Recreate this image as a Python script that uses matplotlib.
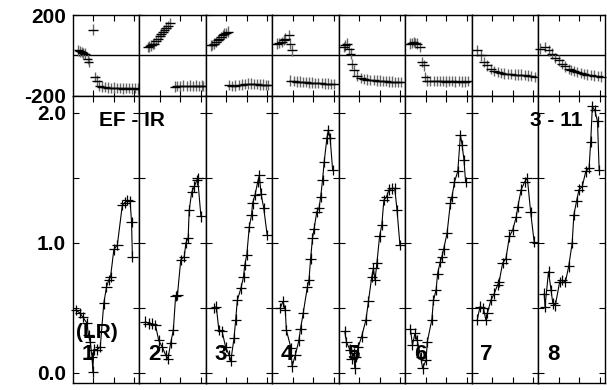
"""
Amplitude / phase multi-panel plot (PGPLOT-like style), 8 columns.
"""
import matplotlib
matplotlib.use("Agg")
import matplotlib.pyplot as plt
from matplotlib.ticker import FixedLocator, NullFormatter

plt.rcParams['font.family'] = ['Liberation Sans', 'DejaVu Sans']
plt.rcParams['font.weight'] = 'bold'
plt.rcParams['axes.unicode_minus'] = False

# ── Data: amplitude (lower row) ──────────────────────────────────────────────
amp_x = [
    [0.15, 0.36, 0.49, 0.69, 0.77, 0.85, 0.94, 0.98, 1.02, 1.18, 1.34, 1.51, 1.64, 1.75, 1.84, 2.0, 2.17, 2.41, 2.53, 2.66, 2.79, 2.86, 2.9],
    [0.30, 0.46, 0.63, 0.79, 0.95, 1.12, 1.28, 1.40, 1.53, 1.66, 1.77, 1.86, 2.02, 2.19, 2.27, 2.38, 2.43, 2.55, 2.68, 2.81, 2.84, 3.0],
    [0.39, 0.52, 0.64, 0.80, 0.97, 1.13, 1.22, 1.38, 1.46, 1.54, 1.71, 1.84, 1.90, 2.0, 2.12, 2.23, 2.28, 2.40, 2.53, 2.61, 2.69, 2.82, 2.99],
    [0.39, 0.53, 0.64, 0.69, 0.92, 0.97, 1.13, 1.30, 1.38, 1.51, 1.71, 1.79, 1.87, 1.96, 2.04, 2.17, 2.28, 2.36, 2.45, 2.53, 2.66, 2.73, 2.82, 2.94],
    [0.30, 0.38, 0.54, 0.63, 0.74, 0.79, 0.84, 0.95, 1.12, 1.33, 1.45, 1.61, 1.69, 1.77, 1.86, 1.99, 2.10, 2.20, 2.33, 2.45, 2.61, 2.73, 2.84, 2.98],
    [0.26, 0.36, 0.48, 0.59, 0.76, 0.85, 1.02, 1.08, 1.30, 1.38, 1.51, 1.58, 1.71, 1.79, 1.87, 2.04, 2.20, 2.28, 2.40, 2.56, 2.69, 2.77, 2.86, 2.94],
    [0.28, 0.41, 0.58, 0.69, 0.77, 0.94, 1.10, 1.27, 1.34, 1.51, 1.67, 1.84, 2.0, 2.17, 2.25, 2.41, 2.58, 2.71, 2.87, 3.04],
    [0.30, 0.34, 0.51, 0.63, 0.72, 0.84, 1.05, 1.17, 1.33, 1.49, 1.66, 1.74, 1.87, 1.99, 2.15, 2.32, 2.48, 2.56, 2.64, 2.76, 2.89, 2.97],
]
amp_y = [
    [0.485, 0.46, 0.43, 0.385, 0.29, 0.24, 0.125, 0.01, 0.18, 0.18, 0.2, 0.535, 0.66, 0.715, 0.74, 0.95, 0.985, 1.29, 1.31, 1.33, 1.32, 1.16, 0.895],
    [0.395, 0.38, 0.38, 0.37, 0.25, 0.2, 0.14, 0.11, 0.23, 0.33, 0.59, 0.6, 0.87, 0.895, 1.0, 1.04, 1.25, 1.39, 1.435, 1.485, 1.5, 1.205],
    [0.5, 0.51, 0.33, 0.32, 0.2, 0.14, 0.09, 0.27, 0.41, 0.56, 0.65, 0.74, 0.83, 0.91, 1.125, 1.215, 1.305, 1.37, 1.47, 1.52, 1.38, 1.27, 1.06],
    [0.5, 0.55, 0.485, 0.33, 0.19, 0.05, 0.14, 0.25, 0.34, 0.46, 0.66, 0.715, 0.88, 1.035, 1.11, 1.24, 1.27, 1.355, 1.485, 1.625, 1.805, 1.87, 1.805, 1.56],
    [0.32, 0.24, 0.18, 0.11, 0.15, 0.035, 0.125, 0.2, 0.28, 0.41, 0.55, 0.74, 0.805, 0.715, 0.845, 1.05, 1.14, 1.33, 1.355, 1.41, 1.42, 1.42, 1.25, 0.985],
    [0.34, 0.215, 0.305, 0.25, 0.125, 0.035, 0.1, 0.24, 0.41, 0.56, 0.64, 0.765, 0.855, 0.895, 0.95, 1.075, 1.305, 1.355, 1.47, 1.55, 1.83, 1.755, 1.64, 1.47],
    [0.41, 0.51, 0.5, 0.41, 0.46, 0.56, 0.61, 0.68, 0.70, 0.845, 0.88, 1.05, 1.1, 1.2, 1.28, 1.41, 1.47, 1.5, 1.24, 1.01],
    [0.61, 0.51, 0.78, 0.64, 0.535, 0.52, 0.70, 0.715, 0.70, 0.82, 1.0, 1.215, 1.32, 1.41, 1.435, 1.55, 1.575, 1.78, 2.05, 2.02, 1.935, 1.56],
]

# ── Data: phase (upper row), degrees ─────────────────────────────────────────
ph_x = [
    [0.28, 0.36, 0.44, 0.52, 0.60, 0.72, 0.77, 0.98, 1.10, 1.18, 1.30, 1.40, 1.55, 1.70, 1.85, 2.0, 2.15, 2.30, 2.45, 2.60, 2.75, 2.90, 3.05, 3.15],
    [0.41, 0.50, 0.58, 0.66, 0.74, 0.82, 0.90, 1.0, 1.07, 1.15, 1.23, 1.32, 1.40, 1.48, 1.72, 1.85, 2.0, 2.15, 2.30, 2.45, 2.60, 2.75, 2.90, 3.05, 3.12],
    [0.25, 0.33, 0.41, 0.50, 0.58, 0.66, 0.74, 0.82, 0.90, 0.98, 1.07, 1.15, 1.30, 1.45, 1.60, 1.75, 1.90, 2.05, 2.20, 2.35, 2.50, 2.65, 2.80, 2.95, 3.05],
    [0.23, 0.35, 0.48, 0.56, 0.64, 0.80, 0.89, 0.97, 0.89, 1.05, 1.20, 1.35, 1.50, 1.65, 1.80, 1.95, 2.10, 2.25, 2.40, 2.55, 2.70, 2.85, 3.0],
    [0.25, 0.33, 0.41, 0.49, 0.58, 0.66, 0.74, 0.90, 1.07, 1.23, 1.40, 1.55, 1.70, 1.85, 2.0, 2.15, 2.30, 2.45, 2.60, 2.75, 2.90, 3.04],
    [0.25, 0.33, 0.41, 0.50, 0.58, 0.74, 0.82, 0.90, 0.99, 1.07, 1.23, 1.40, 1.55, 1.70, 1.85, 2.0, 2.15, 2.30, 2.45, 2.60, 2.75, 2.90, 3.04],
    [0.28, 0.44, 0.60, 0.77, 0.94, 1.10, 1.27, 1.43, 1.60, 1.76, 1.92, 2.09, 2.25, 2.42, 2.58, 2.74, 2.90, 3.07],
    [0.10, 0.34, 0.51, 0.67, 0.84, 1.0, 1.17, 1.33, 1.49, 1.62, 1.74, 1.90, 2.07, 2.24, 2.40, 2.57, 2.73, 2.90, 3.07],
]
ph_y = [
    [25, 20, 17, 10, 8, -17, -33, 128, -108, -125, -150, -155, -158, -160, -162, -160, -163, -162, -165, -162, -163, -165, -163, -165],
    [42, 45, 50, 55, 58, 70, 83, 95, 108, 115, 125, 138, 145, 158, -155, -152, -153, -150, -152, -150, -152, -150, -153, -150, -152],
    [50, 52, 58, 65, 75, 82, 92, 100, 108, 112, 117, -148, -152, -150, -147, -145, -142, -140, -140, -142, -143, -145, -145, -147, -147],
    [58, 62, 67, 75, 83, 100, 58, 25, -125, -128, -130, -130, -132, -133, -135, -135, -137, -137, -138, -140, -140, -142, -142],
    [42, 50, 58, 33, 8, -42, -75, -100, -112, -117, -120, -122, -123, -125, -125, -127, -128, -130, -130, -132, -133, -133],
    [58, 62, 67, 60, 58, 42, -33, -50, -108, -125, -128, -128, -127, -128, -128, -130, -128, -128, -130, -128, -130, -130, -128],
    [25, 0, -33, -50, -67, -78, -83, -88, -90, -92, -93, -95, -95, -95, -98, -100, -103, -108],
    [33, 42, 25, 8, -12, -25, -42, -55, -67, -72, -78, -83, -88, -92, -95, -97, -100, -102, -105],
]

panel_labels = ['1', '2', '3', '4', '5', '6', '7', '8']

W, H = 607, 390
fig = plt.figure(figsize=(W / 100, H / 100), dpi=100)

x0_px, x1_px = 72.7, 604.5
pw = (x1_px - x0_px) / 8
top_px, mid_px, bot_px = 15.0, 95.7, 383.0
XMAX = 3.23


def style_axes(ax):
    for s in ax.spines.values():
        s.set_linewidth(1.0)
    ax.tick_params(which='both', direction='in', top=True, right=True,
                   length=4, width=0.8, labelsize=15, pad=5)
    ax.set_xlim(0, XMAX)
    ax.xaxis.set_major_locator(FixedLocator([1, 2, 3]))
    ax.xaxis.set_major_formatter(NullFormatter())


for i in range(8):
    left = (x0_px + i * pw) / W
    # ── phase panel ──
    axp = fig.add_axes([left, 1 - mid_px / H, pw / W, (mid_px - top_px) / H])
    style_axes(axp)
    axp.set_ylim(-200, 200)
    axp.axhline(0, color='black', lw=1.0)
    axp.yaxis.set_major_locator(FixedLocator([-200, 200]))
    axp.errorbar(ph_x[i], ph_y[i], yerr=26, fmt='none', ecolor='#666666',
                 elinewidth=1.0, clip_on=False)
    axp.errorbar(ph_x[i], ph_y[i], xerr=0.24, fmt='none', ecolor='black',
                 elinewidth=1.0, clip_on=False)
    if i > 0:
        axp.yaxis.set_major_formatter(NullFormatter())

    # ── amplitude panel ──
    axa = fig.add_axes([left, 1 - bot_px / H, pw / W, (bot_px - mid_px) / H])
    style_axes(axa)
    axa.set_ylim(-0.077, 2.133)
    axa.yaxis.set_major_locator(FixedLocator([0, 1, 2]))
    axa.yaxis.set_minor_locator(FixedLocator([0.5, 1.5]))
    axa.yaxis.set_major_formatter(plt.FuncFormatter(lambda v, p: f"{v:.1f}"))
    axa.plot(amp_x[i], amp_y[i], color='black', lw=0.8)
    axa.errorbar(amp_x[i], amp_y[i], xerr=0.25, yerr=0.04, fmt='none',
                 ecolor='black', elinewidth=0.9, clip_on=False)
    if i > 0:
        axa.yaxis.set_major_formatter(NullFormatter())
    else:
        for lab in axa.get_yticklabels() + axp.get_yticklabels():
            lab.set_fontweight('bold')

    fig.text((x0_px + i * pw + 15) / W, 1 - 355 / H, panel_labels[i],
             fontsize=16, fontweight='bold', ha='center', va='center')

fig.text(132 / W, 1 - 121 / H, 'EF - IR', fontsize=15, fontweight='bold',
         ha='center', va='center')
fig.text(582 / W, 1 - 120 / H, '3 - 11', fontsize=15, fontweight='bold',
         ha='right', va='center')
fig.text(97 / W, 1 - 332 / H, '(LR)', fontsize=15, fontweight='bold',
         ha='center', va='center')

fig.savefig('out.png', dpi=100)
